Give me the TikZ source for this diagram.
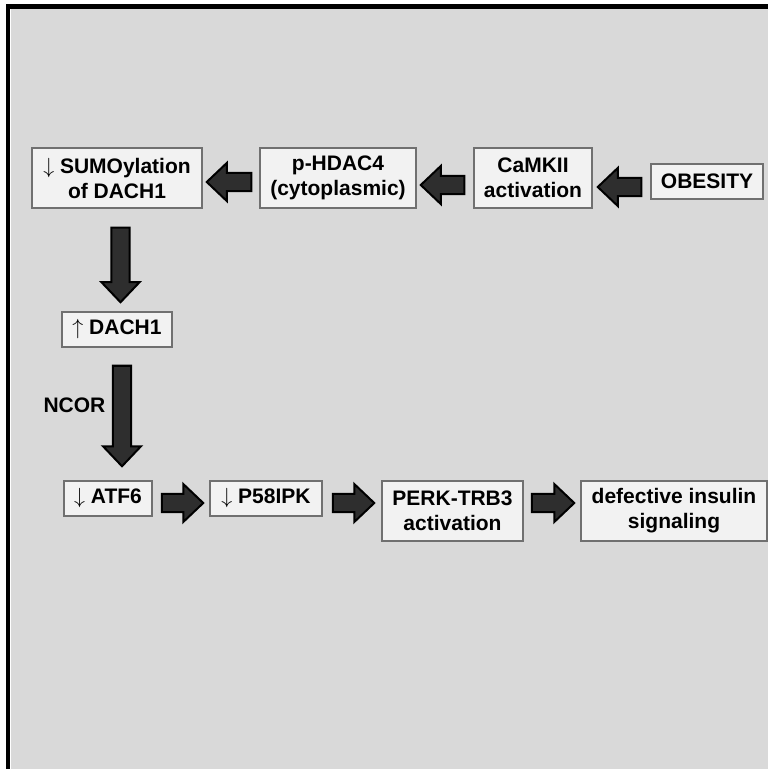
\documentclass[tikz,border=0pt]{standalone}
\usepackage{fontspec}
\setmainfont{Liberation Sans}
\usetikzlibrary{calc}

\definecolor{panel}{HTML}{D9D9D9}
\definecolor{boxfill}{HTML}{F2F2F2}
\definecolor{boxline}{HTML}{707070}
\definecolor{arrowfill}{HTML}{2E2E2E}

\tikzset{
  box/.style={draw=boxline, fill=boxfill, line width=0.75pt, align=center, inner sep=0pt,
    minimum height=17.5pt, font=\bfseries\fontsize{10.5}{12.5}\selectfont},
  tall/.style={minimum height=30pt},
  fat/.style={draw=black, fill=arrowfill, line width=1pt,
    to path={(\tikztostart) coordinate (fa) (\tikztotarget) coordinate (fb)
      ($(fa)!4.6pt!90:(fb)$) -- ($(fb)!11.007pt!-24.70:(fa)$) -- ($(fb)!13.793pt!-43.53:(fa)$)
      -- (fb) -- ($(fb)!13.793pt!43.53:(fa)$) -- ($(fb)!11.007pt!24.70:(fa)$)
      -- ($(fa)!4.6pt!-90:(fb)$) -- cycle}}
}

\begin{document}
\begin{tikzpicture}[x=0.5pt, y=-0.5pt]
        \useasboundingbox (0,0) rectangle (768,769);
        \fill[white] (0,0) rectangle (768,769);
        \fill[panel] (11,9) rectangle (768,769);
        \draw[line width=2.2pt] (8,769) -- (8,6.5) -- (768,6.5);
        \node[box, tall, minimum width=85pt] (sumo) at (117,178) {$\downarrow$ SUMOylation\\of DACH1};
        \node[box, tall, minimum width=78pt] (hdac) at (338,178) {p-HDAC4\\(cytoplasmic)};
        \node[box, tall, minimum width=59pt] (camk) at (533,178) {CaMKII\\activation};
        \node[box, minimum width=56pt] (obes) at (707,181.5) {OBESITY};
        \node[box, minimum width=55pt] (dach) at (117,329.5) {$\uparrow$ DACH1};
        \node[box, minimum width=44pt] (atf) at (108,498.5) {$\downarrow$ ATF6};
        \node[box, minimum width=56pt] (pipk) at (266,498.5) {$\downarrow$ P58IPK};
        \node[box, tall, minimum width=70.5pt] (perk) at (452.5,511) {PERK-TRB3\\activation};
        \node[box, tall, minimum width=93pt] (insl) at (674,511) {defective insulin\\signaling};
        \node[font=\bfseries\fontsize{10.5}{12.5}\selectfont] (ncor) at (74.5,405) {NCOR};
        \draw[fat] ([shift={(-9,5.5)}]obes.west) to ([shift={(5,9)}]camk.east);
        \draw[fat] ([shift={(-9,7)}]camk.west) to ([shift={(4,7)}]hdac.east);
        \draw[fat] ([shift={(-8,4)}]hdac.west) to ([shift={(4,4)}]sumo.east);
        \draw[fat] ([shift={(3.5,19)}]sumo.south) to ([shift={(3.5,-9)}]dach.north);
        \draw[fat] ([shift={(5,18)}]dach.south) to ([shift={(14,-14)}]atf.north);
        \draw[fat] ([shift={(9,4.5)}]atf.east) to ([shift={(-6,4.5)}]pipk.west);
        \draw[fat] ([shift={(10,4.5)}]pipk.east) to ([shift={(-7,-8)}]perk.west);
        \draw[fat] ([shift={(8,-8)}]perk.east) to ([shift={(-6,-8)}]insl.west);
\end{tikzpicture}
\end{document}
